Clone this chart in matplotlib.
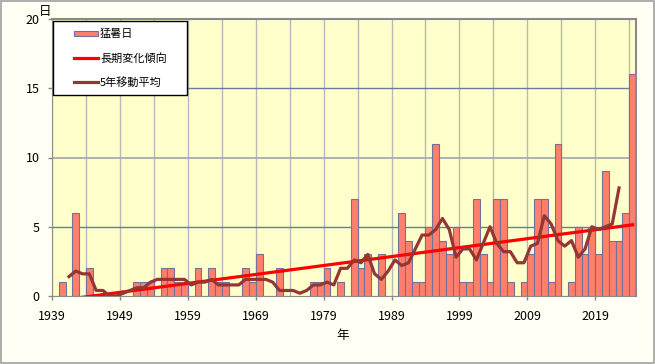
import numpy as np
import matplotlib
matplotlib.use("Agg")
import matplotlib.pyplot as plt
from matplotlib.patches import Rectangle
from matplotlib.lines import Line2D

plt.rcParams['font.family'] = ['Noto Sans CJK JP', 'DejaVu Sans']

# 年ごとの猛暑日日数 (1939-2024)
years = np.arange(1939, 2025)
days = [0, 1, 0, 6, 0, 2, 0, 0, 0, 0,
        0, 0, 1, 1, 1, 0, 2, 2, 1, 1,
        0, 2, 0, 2, 1, 1, 0, 0, 2, 1,
        3, 0, 0, 2, 0, 0, 0, 0, 1, 1,
        2, 0, 1, 0, 7, 2, 3, 0, 3, 0,
        0, 6, 4, 1, 1, 5, 11, 4, 3, 5,
        1, 1, 7, 3, 1, 7, 7, 1, 0, 1,
        3, 7, 7, 1, 11, 0, 1, 5, 3, 5,
        3, 9, 4, 4, 6, 16]

# 5年移動平均 (1941-2022)
ma_years = np.arange(1941, 2023)
ma5 = [1.4, 1.8, 1.6, 1.6, 0.4, 0.4, 0.0, 0.0, 0.2, 0.4,
       0.6, 0.6, 1.0, 1.2, 1.2, 1.2, 1.2, 1.2, 0.8, 1.0,
       1.0, 1.2, 0.8, 0.8, 0.8, 0.8, 1.2, 1.2, 1.2, 1.2,
       1.0, 0.4, 0.4, 0.4, 0.2, 0.4, 0.8, 0.8, 1.0, 0.8,
       2.0, 2.0, 2.6, 2.4, 3.0, 1.6, 1.2, 1.8, 2.6, 2.2,
       2.4, 3.4, 4.4, 4.4, 4.8, 5.6, 4.8, 2.8, 3.4, 3.4,
       2.6, 3.8, 5.0, 3.8, 3.2, 3.2, 2.4, 2.4, 3.6, 3.8,
       5.8, 5.2, 4.0, 3.6, 4.0, 2.8, 3.4, 5.0, 4.8, 5.0,
       5.2, 7.8]

xtick_years = np.arange(1939, 2020, 10)
grid_years = np.arange(1939, 2025, 5)
yticks = [0, 5, 10, 15, 20]

# 長期変化傾向(一次回帰)
coef = np.polyfit(years, days, 1)
trend = np.polyval(coef, years)

fig = plt.figure(figsize=(6.55, 3.64), dpi=100, facecolor="#FFFFF3")
ax = fig.add_axes([52/655, 68/364, 584/655, 277/364])
ax.set_facecolor("#FFFFCC")

# 枠
fig.add_artist(Rectangle((0.001, 0.002), 0.997, 0.995, transform=fig.transFigure,
                         fill=False, edgecolor="#A0A0A0", linewidth=1.2))

# グリッド
for g in grid_years:
    ax.axvline(g, color="#B8B8B8", linewidth=1, zorder=0)
ax.axhline(5, color="#667C9C", linewidth=1, zorder=0)
ax.axhline(10, color="#A8ADAD", linewidth=1.3, zorder=0)
ax.axhline(15, color="#667C9C", linewidth=1, zorder=0)

ax.bar(years, days, width=1, align="edge", color="#FF7F6B",
       edgecolor="#74709C", linewidth=0.8, zorder=2)
ax.plot(years + 0.5, trend, color="#FF0000", linewidth=2.3, zorder=3)
ax.plot(ma_years + 0.5, ma5, color="#943634", linewidth=2.3, zorder=4)

ax.set_xlim(1939, 2025)
ax.set_ylim(0, 20)
ax.set_xticks(xtick_years)
ax.set_xticklabels([str(y) for y in xtick_years], fontsize=9)
ax.set_yticks(yticks)
ax.set_yticklabels([str(v) for v in yticks], fontsize=9)
ax.tick_params(axis="x", length=3, width=1, color="#888888", pad=7)
ax.tick_params(axis="y", length=3, width=1, color="#888888", pad=6)

for s in ["left", "bottom"]:
    ax.spines[s].set_color("#8C8C8C")
for s in ["top", "right"]:
    ax.spines[s].set_color("#8A8A8A")
    ax.spines[s].set_linewidth(1.5)

fig.text(45/655, 1 - 11/364, "日", fontsize=9, ha="center", va="center")
fig.text(343/655, 1 - 335/364, "年", fontsize=9, ha="center", va="center")

# 凡例
def fx(px):
    return px / 655

def fy(py):
    return 1 - py / 364

fig.add_artist(Rectangle((fx(53.5), fy(94.5)), fx(133), 74/364, transform=fig.transFigure,
                         facecolor="white", edgecolor="black", linewidth=1, zorder=5))
fig.add_artist(Rectangle((fx(74), fy(36)), fx(24), 5/364, transform=fig.transFigure,
                         facecolor="#FF7F6B", edgecolor="#74709C", linewidth=0.8, zorder=6))
fig.add_artist(Line2D([fx(74), fx(98)], [fy(58), fy(58)], transform=fig.transFigure,
                      color="#FF0000", linewidth=2.3, zorder=6))
fig.add_artist(Line2D([fx(74), fx(98)], [fy(82), fy(82)], transform=fig.transFigure,
                      color="#943634", linewidth=2.3, zorder=6))
for label, py in [("猛暑日", 33.5), ("長期変化傾向", 58.5), ("5年移動平均", 82.5)]:
    fig.text(fx(100), fy(py), label, fontsize=8, ha="left", va="center", zorder=7)

fig.savefig("out.png", dpi=100, facecolor=fig.get_facecolor())
